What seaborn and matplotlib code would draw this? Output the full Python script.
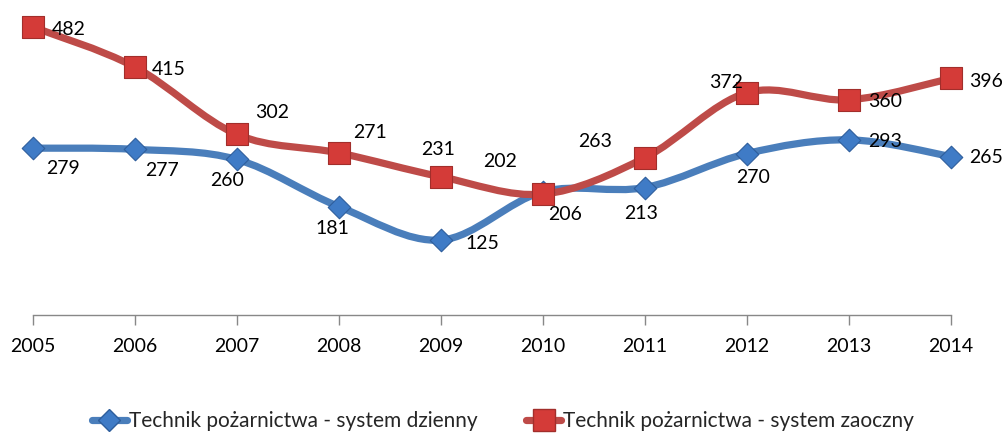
import matplotlib as mpl
import matplotlib.pyplot as plt
from matplotlib.path import Path
from matplotlib.patches import PathPatch
from matplotlib.lines import Line2D
import seaborn as sns
import pandas as pd
import numpy as np

# values
years = [2005, 2006, 2007, 2008, 2009, 2010, 2011, 2012, 2013, 2014]
dzienny = [279, 277, 260, 181, 125, 206, 213, 270, 293, 265]
zaoczny = [482, 415, 302, 271, 231, 202, 263, 372, 360, 396]
label_dzienny = "Technik pożarnictwa - system dzienny"
label_zaoczny = "Technik pożarnictwa - system zaoczny"

# data label offsets (pixels, x right / y down) as placed in the original
off_dzienny = [(30, 20), (27, 21), (-10, 21), (-7, 22), (41, 3),
               (22, 23), (-4, 26), (6, 24), (36, 2), (35, 1)]
off_zaoczny = [(36, 2), (34, 2), (35, -22), (31, -20), (-3, -27),
               (-43, -33), (-50, -16), (-21, -10), (36, 2), (35, 3)]

BLUE_LINE = "#4A7EBB"
RED_LINE = "#BE4B48"
BLUE_FILL = "#3F7BC6"
BLUE_EDGE = "#2E5E9C"
RED_FILL = "#D43B38"
RED_EDGE = "#A22E2B"


def smooth_path(xs, ys):
    # Excel-style smoothed line: cubic Bezier segments (Catmull-Rom, 1/6)
    pts = np.column_stack([xs, ys]).astype(float)
    n = len(pts)
    verts = [pts[0]]
    codes = [Path.MOVETO]
    for i in range(n - 1):
        p0 = pts[max(i - 1, 0)]
        p1 = pts[i]
        p2 = pts[i + 1]
        p3 = pts[min(i + 2, n - 1)]
        c1 = p1 + (p2 - p0) / 6.0
        c2 = p2 - (p3 - p1) / 6.0
        verts += [c1, c2, p2]
        codes += [Path.CURVE4] * 3
    return Path(verts, codes)


sns.set_style("white")
plt.rcParams['font.family'] = ['Lato', 'DejaVu Sans']

fig = plt.figure(figsize=(10.06, 4.34), dpi=100)
ax = fig.add_axes([0.0328, 0.2751, 0.9125, 0.6873])

df = pd.DataFrame({"year": years, "dzienny": dzienny, "zaoczny": zaoczny})

for col, lc in [("dzienny", BLUE_LINE), ("zaoczny", RED_LINE)]:
    patch = PathPatch(smooth_path(df["year"], df[col]), facecolor="none",
                      edgecolor=lc, lw=5.2, capstyle="round", joinstyle="round",
                      zorder=2, clip_on=False)
    ax.add_patch(patch)

sns.scatterplot(data=df, x="year", y="dzienny", marker="D", s=11.5 ** 2,
                color=BLUE_FILL, edgecolor=BLUE_EDGE, linewidth=0.8,
                zorder=3, clip_on=False, ax=ax)
sns.scatterplot(data=df, x="year", y="zaoczny", marker="s", s=15.5 ** 2,
                color=RED_FILL, edgecolor=RED_EDGE, linewidth=0.8,
                zorder=4, clip_on=False, ax=ax)

for x, y, (dx, dy) in zip(years, dzienny, off_dzienny):
    ax.annotate(str(y), (x, y), xytext=(dx * 0.72, -dy * 0.72),
                textcoords="offset points", ha="center", va="center",
                fontsize=14, color="black", zorder=5)
for x, y, (dx, dy) in zip(years, zaoczny, off_zaoczny):
    ax.annotate(str(y), (x, y), xytext=(dx * 0.72, -dy * 0.72),
                textcoords="offset points", ha="center", va="center",
                fontsize=14, color="black", zorder=5)

ax.set_xlim(2005, 2014)
ax.set_ylim(0, 500)
ax.set_xticks(years)
ax.set_xticklabels([str(y) for y in years])
ax.set_yticks([])
ax.set_xlabel("")
ax.set_ylabel("")
for side in ["top", "right", "left"]:
    ax.spines[side].set_visible(False)
ax.spines["bottom"].set_color("#888888")
ax.spines["bottom"].set_linewidth(1.0)
ax.tick_params(axis="x", bottom=True, length=7, width=1, color="#888888",
               pad=10, labelsize=14, labelcolor="black")

handles = [
    Line2D([], [], color=BLUE_LINE, lw=5.2, marker="D", markersize=11.5,
           markerfacecolor=BLUE_FILL, markeredgecolor=BLUE_EDGE),
    Line2D([], [], color=RED_LINE, lw=5.2, marker="s", markersize=15.5,
           markerfacecolor=RED_FILL, markeredgecolor=RED_EDGE),
]
fig.legend(handles, [label_dzienny, label_zaoczny], loc="center",
           bbox_to_anchor=(0.5, 13 / 434), ncol=2, frameon=False,
           fontsize=15, handlelength=1.7, handletextpad=0.1,
           columnspacing=2.3, borderaxespad=0, borderpad=0)

fig.savefig("out.png", dpi=100)
